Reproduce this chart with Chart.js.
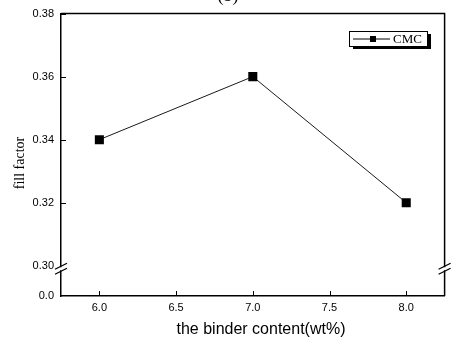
<!DOCTYPE html>
<html>
<head>
<meta charset="utf-8">
<script src="https://cdn.jsdelivr.net/npm/chart.js@4"></script>
<style>
    html, body { margin: 0; padding: 0; background: #ffffff; }
    canvas { display: block; }
</style>
</head>
<body>
<canvas id="chart" width="451" height="337"></canvas>
<script>
const binderContent = [6.0, 7.0, 8.0];
const fillFactor = [0.340, 0.360, 0.320];
const seriesLabel = "CMC";

const xTicks = [6.0, 6.5, 7.0, 7.5, 8.0];
const xTickLabels = ["6.0", "6.5", "7.0", "7.5", "8.0"];
const yTicks = [0.0, 0.30, 0.32, 0.34, 0.36, 0.38];
const yTickLabels = ["0.0", "0.30", "0.32", "0.34", "0.36", "0.38"];

const titleText = "(b)";
const xTitle = "the binder content(wt%)";
const yTitle = "fill factor";

// broken y axis: everything below 0.30 is squeezed into a short stub
const BREAK_AT = 0.30;
const BREAK_FLOOR = 0.2904;

const sansFont = "'Liberation Sans', Arial, sans-serif";
const serifFont = "'Liberation Serif', 'Times New Roman', serif";

function toAxis(v) {
    if (v >= BREAK_AT) return v;
    return BREAK_FLOOR + (v / BREAK_AT) * (BREAK_AT - BREAK_FLOOR);
}

function breakMarks(ctx, x, y) {
    // small white gap in the axis, then the two slashes
    ctx.save();
    ctx.fillStyle = "#ffffff";
    ctx.fillRect(x - 1.5, y - 1.5, 3, 3);
    ctx.restore();
    ctx.beginPath();
    for (let dy of [-2.5, 2.5]) {
        ctx.moveTo(x - 6, y + dy + 3);
        ctx.lineTo(x + 6, y + dy - 3);
    }
    ctx.stroke();
}

const framePlugin = {
    id: "frame",
    afterDatasetsDraw(chart) {
        const ctx = chart.ctx;
        const area = chart.chartArea;
        const xs = chart.scales.x;
        const ys = chart.scales.y;
        ctx.save();
        ctx.strokeStyle = "#000000";
        ctx.lineWidth = 1.5;

        // top + right border
        ctx.beginPath();
        ctx.moveTo(area.left, area.top);
        ctx.lineTo(area.right, area.top);
        ctx.lineTo(area.right, area.bottom);
        ctx.stroke();

        // inward tick marks
        ctx.lineWidth = 1;
        ctx.beginPath();
        for (let v of xTicks) {
            const px = Math.round(xs.getPixelForValue(v)) + 0.5;
            ctx.moveTo(px, area.bottom);
            ctx.lineTo(px, area.bottom - 5);
        }
        for (let v of yTicks) {
            if (v <= BREAK_AT) continue;
            const py = Math.round(ys.getPixelForValue(v)) + 0.5;
            ctx.moveTo(area.left, py);
            ctx.lineTo(area.left + 5, py);
        }
        ctx.stroke();

        // axis break
        ctx.lineWidth = 1.3;
        const yb = ys.getPixelForValue(BREAK_AT) + 3;
        breakMarks(ctx, area.left, yb);
        breakMarks(ctx, area.right, yb);

        // legend box with drop shadow
        const bx = 349, by = 31, bw = 78, bh = 15;
        ctx.fillStyle = "#000000";
        ctx.fillRect(bx + 4, by + 3, bw, bh);
        ctx.fillStyle = "#ffffff";
        ctx.fillRect(bx, by, bw, bh);
        ctx.lineWidth = 1;
        ctx.strokeRect(bx + 0.5, by + 0.5, bw, bh);
        const ly = by + bh / 2 + 0.5;
        ctx.beginPath();
        ctx.moveTo(bx + 4, ly);
        ctx.lineTo(bx + 41, ly);
        ctx.stroke();
        ctx.fillStyle = "#000000";
        ctx.fillRect(bx + 21, ly - 3, 6, 6);
        ctx.font = "13px " + serifFont;
        ctx.textBaseline = "middle";
        ctx.textAlign = "left";
        ctx.fillText(seriesLabel, bx + 44, ly + 1);

        // axis titles
        ctx.font = "16px " + sansFont;
        ctx.textAlign = "center";
        ctx.fillText(xTitle, 261, 330);
        ctx.save();
        ctx.translate(20, 163);
        ctx.rotate(-Math.PI / 2);
        ctx.font = "14px " + serifFont;
        ctx.fillText(yTitle, 0, 0);
        ctx.restore();

        // title, cut off at the top edge
        ctx.font = "18px " + serifFont;
        ctx.textAlign = "center";
        ctx.textBaseline = "alphabetic";
        ctx.fillText(titleText, 228, 1);
        ctx.restore();
    }
};

new Chart(document.getElementById("chart"), {
    type: "line",
    data: {
        datasets: [
            {
                label: seriesLabel,
                data: binderContent.map((x, i) => ({ x: x, y: toAxis(fillFactor[i]) })),
                borderColor: "#1a1a1a",
                borderWidth: 1,
                pointStyle: "rect",
                pointRadius: 6.4,
                pointBackgroundColor: "#000000",
                pointBorderWidth: 0,
                tension: 0,
            },
        ],
    },
    options: {
        responsive: false,
        devicePixelRatio: 1,
        animation: false,
        layout: {
            padding: { top: 12, right: 6, left: 0, bottom: 0 },
        },
        plugins: {
            legend: { display: false },
            tooltip: { enabled: false },
        },
        scales: {
            x: {
                type: "linear",
                min: 5.75,
                max: 8.25,
                afterBuildTicks: function(axis) {
                    axis.ticks = xTicks.map(v => ({ value: v }));
                },
                afterFit: function(axis) {
                    axis.height = 41;
                },
                ticks: {
                    color: "#000000",
                    font: { family: sansFont, size: 11 },
                    padding: 5,
                    maxRotation: 0,
                    callback: function(value) {
                        const i = xTicks.indexOf(value);
                        return i >= 0 ? xTickLabels[i] : "";
                    },
                },
                grid: { drawOnChartArea: false, drawTicks: false },
                border: { color: "#000000", width: 1.5 },
            },
            y: {
                type: "linear",
                min: BREAK_FLOOR,
                max: 0.38,
                afterBuildTicks: function(axis) {
                    axis.ticks = yTicks.map(v => ({ value: toAxis(v) }));
                },
                afterFit: function(axis) {
                    axis.width = 61;
                },
                ticks: {
                    color: "#000000",
                    font: { family: sansFont, size: 11 },
                    padding: 7,
                    callback: function(value, index) {
                        return yTickLabels[index];
                    },
                },
                grid: { drawOnChartArea: false, drawTicks: false },
                border: { color: "#000000", width: 1.5 },
            },
        },
    },
    plugins: [framePlugin],
});
</script>
</body>
</html>
